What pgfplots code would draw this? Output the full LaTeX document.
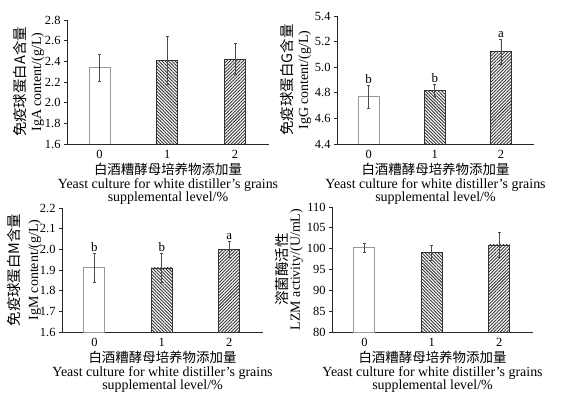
\documentclass[border=0pt]{standalone}
\usepackage{fontspec}
\setmainfont{Liberation Serif}
\newfontfamily\cjk{Noto Sans CJK SC}
\usepackage{pgfplots}
\pgfplotsset{compat=1.18}
\usetikzlibrary{patterns.meta}

\pgfplotsset{
 panel/.style={
  scale only axis, axis lines=left, axis line style={black!85, line width=0.8pt, -},
  xmin=-0.48, xmax=2.5, enlargelimits=false,
  xtick={0,1,2}, xticklabels={0,1,2},
  x tick style={draw=none}, major tick length=3bp, tick align=outside,
  y tick style={black!85, line width=0.8pt},
  tick label style={font=\fontsize{12.5}{14}\selectfont},
  /pgf/number format/assume math mode=true,
  bar width=21bp,
  label style={font=\fontsize{14}{14}\selectfont, align=center},
  xlabel={{\cjk\fontsize{13.5}{14}\selectfont 白酒糟酵母培养物添加量}\\[0pt]Yeast culture for white distiller’s grains\\[-1pt]supplemental level/\%},
  xlabel style={yshift=3bp},
 },
 errs/.style={/pgfplots/error bars/y dir=both, /pgfplots/error bars/y explicit,
   /pgfplots/error bars/error bar style={black!70, line width=0.7pt},
   /pgfplots/error bars/error mark options={rotate=90, black!70, mark size=1.5bp, line width=0.6pt}},
 b0/.style={ybar, bar shift=0pt, draw=black!40, fill=white, line width=0.9pt, errs},
 b1/.style={ybar, bar shift=0pt, draw=black!80, line width=0.8pt,
   pattern={Lines[angle=-45,distance=2.3pt,line width=0.9pt]}, pattern color=black!80, errs},
 b2/.style={ybar, bar shift=0pt, draw=black!80, line width=0.8pt,
   pattern={Lines[angle=45,distance=2.3pt,line width=0.9pt]}, pattern color=black!80, errs},
 lett/.style={only marks, mark=none, point meta=explicit symbolic, nodes near coords,
   nodes near coords style={anchor=south, font=\fontsize{13}{14}\selectfont, inner sep=1.5bp}},
}

\begin{document}
\begin{tikzpicture}
\useasboundingbox (0,0) rectangle (570bp,398bp);

% Panel 1: IgA
\begin{axis}[panel, at={(67bp,254bp)}, anchor=south west, width=202bp, height=124bp,
  ymin=1.6, ymax=2.8, ytick={1.6,1.8,2.0,2.2,2.4,2.6,2.8},
  yticklabels={1.6,1.8,2.0,2.2,2.4,2.6,2.8},
  ylabel style={yshift=-6bp},
  ylabel={{\cjk\fontsize{14.5}{14}\selectfont 免疫球蛋白A含量}\\[2pt]IgA content/(g/L)}]
\addplot[b0] coordinates {(0,2.34) +- (0,0.13)};
\addplot[b1] coordinates {(1,2.41) +- (0,0.23)};
\addplot[b2] coordinates {(2,2.42) +- (0,0.15)};
\end{axis}

% Panel 2: IgG
\begin{axis}[panel, at={(337bp,254bp)}, anchor=south west, width=197bp, height=128bp,
  ymin=4.4, ymax=5.4, ytick={4.4,4.6,4.8,5.0,5.2,5.4},
  yticklabels={4.4,4.6,4.8,5.0,5.2,5.4},
  ylabel style={yshift=-3bp},
  ylabel={{\cjk\fontsize{14.5}{14}\selectfont 免疫球蛋白G含量}\\[2pt]IgG content/(g/L)}]
\addplot[b0] coordinates {(0,4.77) +- (0,0.09)};
\addplot[b1] coordinates {(1,4.82) +- (0,0.05)};
\addplot[b2] coordinates {(2,5.12) +- (0,0.10)};
\addplot[lett] coordinates {(0,4.86)[b] (1,4.87)[b] (2,5.22)[a]};
\end{axis}

% Panel 3: IgM
\begin{axis}[panel, at={(62bp,66bp)}, anchor=south west, width=201bp, height=124bp,
  ymin=1.6, ymax=2.2, ytick={1.6,1.7,1.8,1.9,2.0,2.1,2.2},
  yticklabels={1.6,1.7,1.8,1.9,2.0,2.1,2.2},
  ylabel style={yshift=-8bp},
  ylabel={{\cjk\fontsize{14.5}{14}\selectfont 免疫球蛋白M含量}\\[5pt]IgM content/(g/L)}]
\addplot[b0] coordinates {(0,1.91) +- (0,0.07)};
\addplot[b1] coordinates {(1,1.91) +- (0,0.07)};
\addplot[b2] coordinates {(2,2.00) +- (0,0.04)};
\addplot[lett] coordinates {(0,1.98)[b] (1,1.98)[b] (2,2.04)[a]};
\end{axis}

% Panel 4: LZM
\begin{axis}[panel, at={(332bp,66bp)}, anchor=south west, width=201bp, height=125bp,
  ymin=80, ymax=110, ytick={80,85,90,95,100,105,110},
  yticklabels={80,85,90,95,100,105,110},
  ylabel style={yshift=-3bp},
  ylabel={{\cjk\fontsize{14.5}{14}\selectfont 溶菌酶活性}\\[-1pt]LZM activity/(U/mL)}]
\addplot[b0] coordinates {(0,100.2) +- (0,1.0)};
\addplot[b1] coordinates {(1,99.0) +- (0,1.8)};
\addplot[b2] coordinates {(2,100.9) +- (0,3.0)};
\end{axis}
\end{tikzpicture}
\end{document}
